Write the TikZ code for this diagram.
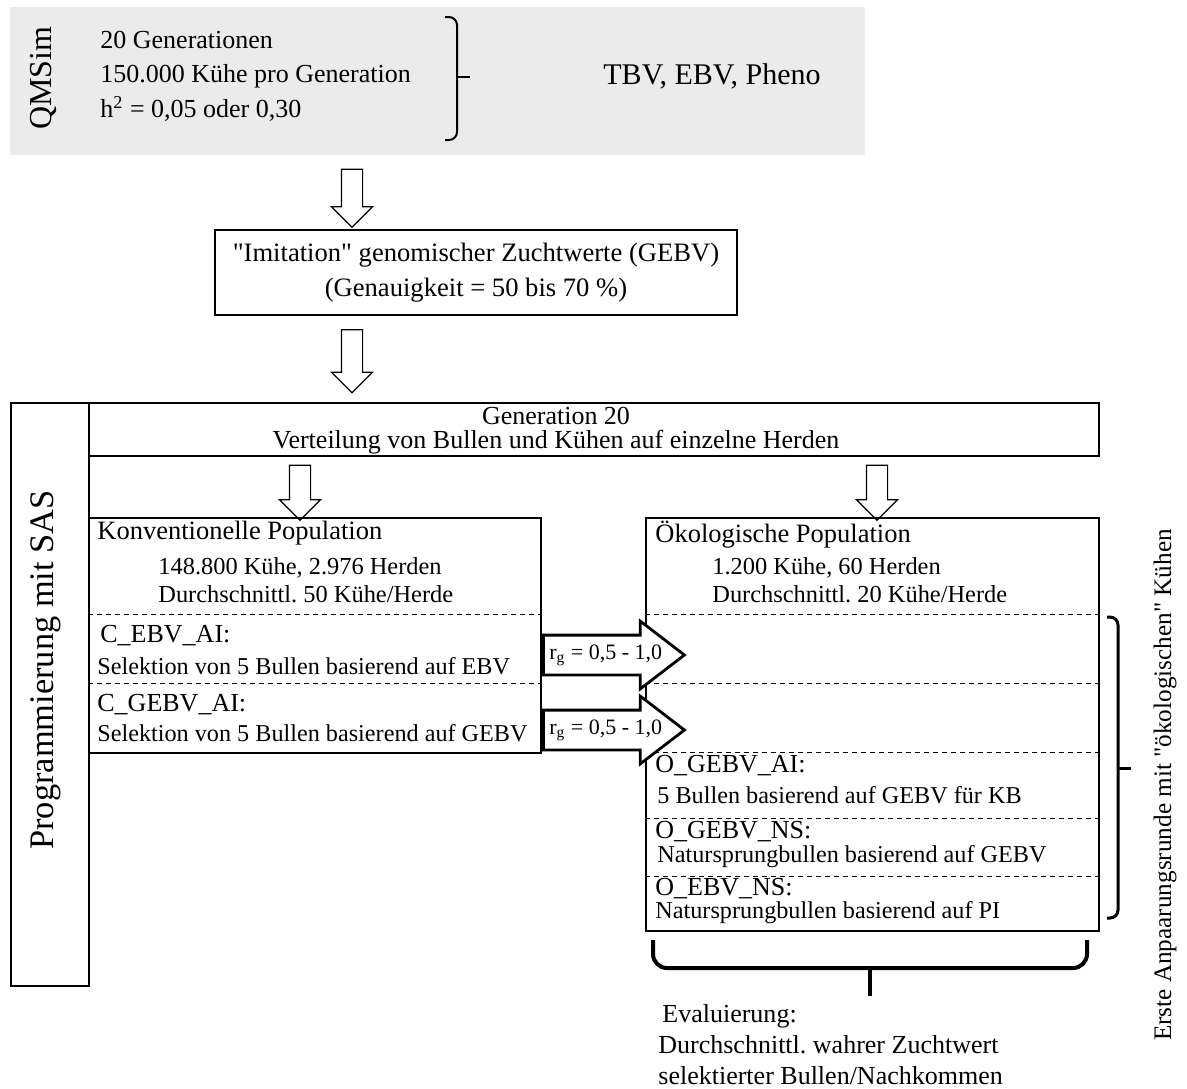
\documentclass[tikz,border=0pt]{standalone}
\usepackage{fontspec}
\setmainfont{Liberation Serif}
\usepackage{tikz}
\usetikzlibrary{calc}
\usetikzlibrary{shapes}
\usetikzlibrary{arrows}

\definecolor{simgray}{RGB}{235,235,235}
\newcommand{\fsz}[2]{\fontsize{#1}{#2}\selectfont}
\frenchspacing

\tikzset{
  box/.style = {rectangle, draw = black, line width = 0.75pt, inner sep = 0pt, anchor = north west},
  txt/.style = {anchor = west, inner sep = 0pt, align = left},
  downarrow/.style = {single arrow, draw = black, fill = white, line width = 0.6pt, shape border rotate = 270, inner sep = 0pt, inner xsep = 5pt, single arrow head extend = 5pt, minimum height = 29pt},
  rgarrow/.style = {single arrow, draw = black, fill = white, line width = 1.4pt, inner sep = 0pt, inner ysep = 9.25pt, single arrow head extend = 7pt, single arrow tip angle = 75, minimum height = 70.5pt, anchor = tail},
  sep/.style = {dash pattern = on 2.5pt off 2pt, line width = 0.5pt},
  bracket/.style = {line width = 1pt, rounded corners = 4pt}
}

\begin{document}
\begin{tikzpicture}[x = 0.5pt, y = -0.5pt]
\useasboundingbox (0,0) rectangle (1187,1088);

% QMSim
\draw (10,7) node[anchor = north west, fill = simgray, inner sep = 0pt, minimum width = 427.5pt, minimum height = 74pt, name = sim]{};
\draw (43,78) node[rotate = 90, font = \fsz{16}{18}, name = qmsim]{QMSim};
\draw (100,76) node[txt, font = \fsz{13}{17.25}, name = simpar]{20 Generationen\\150.000 Kühe pro Generation\\h\textsuperscript{2} = 0,05 oder 0,30};
\draw[bracket] (445,17) -| (457,140) -- (445,140);
\draw[bracket] (457,77) -- (470,77);
\draw (603,76) node[txt, font = \fsz{15}{17}, name = simout]{TBV, EBV, Pheno};

\draw (352,193) node[downarrow, name = a1]{};
\draw (476,272.5) node[rectangle, draw = black, line width = 1pt, minimum width = 261pt, minimum height = 42.5pt, align = center, font = \fsz{13.3}{17.5}, name = imit]{\textquotedbl Imitation\textquotedbl{} genomischer Zuchtwerte (GEBV)\\(Genauigkeit = 50 bis 70 \%)};
\draw (352,356) node[downarrow, minimum height = 31.5pt, name = a2]{};

% SAS
\draw (10,402) node[box, line width = 1pt, minimum width = 39pt, minimum height = 291.5pt, name = sas]{};
\draw (46,670) node[rotate = 90, font = \fsz{17.2}{19}, name = sastxt]{Programmierung mit SAS};
\draw (88,402) node[box, line width = 1pt, minimum width = 505pt, minimum height = 26.5pt, name = gen]{};
\draw (556,431) node[align = center, inner sep = 0pt, font = \fsz{13}{12}, name = gentxt]{Generation 20\\Verteilung von Bullen und Kühen auf einzelne Herden};
\draw (300,487.5) node[downarrow, minimum height = 27.5pt, name = a3]{};
\draw (877,487.5) node[downarrow, minimum height = 27.5pt, name = a4]{};

% konventionell
\draw (88,517) node[box, minimum width = 226pt, minimum height = 117.5pt, name = konv]{};
\foreach \dy in {97,166}
  \draw[sep] (konv.north west) + (0,\dy) -- + (452,\dy);
\draw (97,533) node[txt, font = \fsz{13.25}{15}, name = konvhead]{Konventionelle Population};
\draw (158,580) node[txt, font = \fsz{12.2}{14}, name = konvnum]{148.800 Kühe, 2.976 Herden\\Durchschnittl. 50 Kühe/Herde};
\draw (100,636) node[txt, font = \fsz{13}{15}, name = cebv]{C\_EBV\_AI:};
\draw (97,666) node[txt, font = \fsz{12.1}{14}, name = cebvtxt]{Selektion von 5 Bullen basierend auf EBV};
\draw (97,705) node[txt, font = \fsz{13}{15}, name = cgebv]{C\_GEBV\_AI:};
\draw (97,733) node[txt, font = \fsz{12.1}{14}, name = cgebvtxt]{Selektion von 5 Bullen basierend auf GEBV};

% oekologisch
\draw (645,517) node[box, minimum width = 226.5pt, minimum height = 206.5pt, name = oeko]{};
\foreach \dy in {97,166,235,301,359}
  \draw[sep] (oeko.north west) + (0,\dy) -- + (453,\dy);
\draw (655,535) node[txt, font = \fsz{13.25}{15}, name = oekohead]{Ökologische Population};
\draw (712,580) node[txt, font = \fsz{12.2}{14}, name = oekonum]{1.200 Kühe, 60 Herden\\Durchschnittl. 20 Kühe/Herde};
\draw (655,766) node[txt, font = \fsz{13}{15}, name = ogebvai]{O\_GEBV\_AI:};
\draw (657,795) node[txt, font = \fsz{12.1}{14}, name = ogebvaitxt]{5 Bullen basierend auf GEBV für KB};
\draw (655,832) node[txt, font = \fsz{13}{15}, name = ogebvns]{O\_GEBV\_NS:};
\draw (657,857) node[txt, font = \fsz{12.1}{14}, name = ogebvnstxt]{Natursprungbullen basierend auf GEBV};
\draw (655,889) node[txt, font = \fsz{13}{15}, name = oebvns]{O\_EBV\_NS:};
\draw (655,913) node[txt, font = \fsz{12.1}{14}, name = oebvnstxt]{Natursprungbullen basierend auf PI};

% r_g Pfeile
\draw (542,655) node[rgarrow, name = rg1]{};
\draw (rg1.tail) + (7,0) node[txt, font = \fsz{11}{12}, name = rg1txt]{r\textsubscript{g} = 0,5 - 1,0};
\draw (542,730) node[rgarrow, name = rg2]{};
\draw (rg2.tail) + (7,0) node[txt, font = \fsz{11}{12}, name = rg2txt]{r\textsubscript{g} = 0,5 - 1,0};

% Klammern
\draw[bracket, line width = 1.5pt] (1107,617) -| (1118,918) -- (1107,918);
\draw[bracket, line width = 1.5pt] (1118,768) -- (1131,768);
\draw (1165,785) node[rotate = 90, font = \fsz{12.6}{14}, name = runde]{Erste Anpaarungsrunde mit \textquotedbl ökologischen\textquotedbl{} Kühen};
\draw[bracket, line width = 2pt, rounded corners = 7pt] (653,940) |- (1087,968) -- (1087,940);
\draw[bracket, line width = 2pt] (870,968) -- (870,996);
\draw (658,1045) node[txt, font = \fsz{13}{15.5}, name = eval]{\hspace*{2pt}Evaluierung:\\Durchschnittl. wahrer Zuchtwert\\selektierter Bullen/Nachkommen};
\end{tikzpicture}
\end{document}
